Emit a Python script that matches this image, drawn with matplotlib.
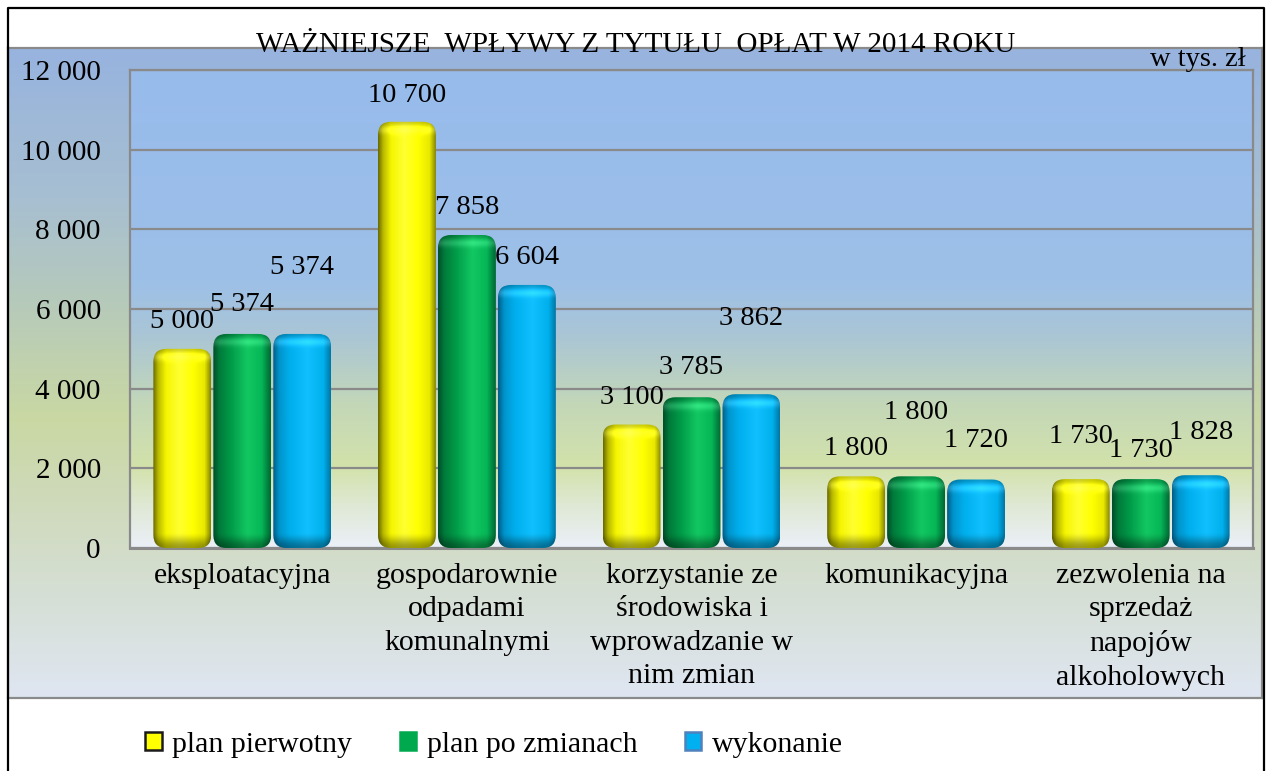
import numpy as np
import matplotlib
matplotlib.use("Agg")
import matplotlib.pyplot as plt
from matplotlib.patches import FancyBboxPatch, Patch
from matplotlib.colors import LinearSegmentedColormap
from matplotlib.ticker import FuncFormatter, MultipleLocator
from matplotlib.lines import Line2D

# ---------------- data ----------------
categories = ["eksploatacyjna", "gospodarownie\nodpadami\nkomunalnymi",
              "korzystanie ze\nśrodowiska i\nwprowadzanie w\nnim zmian",
              "komunikacyjna", "zezwolenia na\nsprzedaż\nnapojów\nalkoholowych"]
series_names = ["plan pierwotny", "plan po zmianach", "wykonanie"]
plan_pierwotny = [5000, 10700, 3100, 1800, 1730]
plan_po_zmianach = [5374, 7858, 3785, 1800, 1730]
wykonanie = [5374, 6604, 3862, 1720, 1828]
label_texts = [["5 000", "10 700", "3 100", "1 800", "1 730"],
               ["5 374", "7 858", "3 785", "1 800", "1 730"],
               ["5 374", "6 604", "3 862", "1 720", "1 828"]]
# label vertical offsets above bar tops (data units), as placed in the original
label_dy = [[680, 670, 690, 710, 1060],
            [730, 680, 740, 1590, 730],
            [1660, 700, 1890, 970, 1080]]
title = "WAŻNIEJSZE  WPŁYWY Z TYTUŁU  OPŁAT W 2014 ROKU"
unit = "w tys. zł"

SERIF = ['Liberation Serif', 'DejaVu Serif']
plt.rcParams['font.family'] = SERIF

W, H = 1266, 771
fig = plt.figure(figsize=(W / 100, H / 100), dpi=100)
fig.patch.set_facecolor('white')

def fx(px):
    return px / W

def fy(py):
    return 1 - py / H

# ---------- chart-area background ----------
ca = fig.add_axes([fx(8), fy(698), fx(1262) - fx(8), fy(48) - fy(698)], zorder=0)
ca_stops = [(0.0, '#dfe6f2'), (0.15, '#d6dfd6'), (0.3, '#cfdabb'), (0.43, '#c9d8a3'),
            (0.62, '#b5c9bc'), (0.77, '#a7bfd1'), (1.0, '#97b3df')]
cmap_ca = LinearSegmentedColormap.from_list('ca', ca_stops)
ca.imshow(np.linspace(0, 1, 256).reshape(-1, 1), cmap=cmap_ca, origin='lower',
          aspect='auto', extent=[0, 1, 0, 1])
ca.set_xlim(0, 1); ca.set_ylim(0, 1)
ca.set_xticks([]); ca.set_yticks([])
for s in ca.spines.values():
    s.set_color('#8a8a8a'); s.set_linewidth(1.6)

# ---------- plot area ----------
ax = fig.add_axes([fx(130), fy(548), fx(1253) - fx(130), fy(70) - fy(548)], zorder=1)
pa_stops = [(0.0, '#ebf0f8'), (0.08, '#e0e9d8'), (0.17, '#d3e2aa'), (0.3, '#c3d7b8'),
            (0.45, '#a9c5d6'), (0.56, '#9dc0e8'), (1.0, '#97bbec')]
cmap_pa = LinearSegmentedColormap.from_list('pa', pa_stops)
ax.imshow(np.linspace(0, 1, 256).reshape(-1, 1), cmap=cmap_pa, origin='lower',
          aspect='auto', extent=[0, 1, 0, 1], transform=ax.transAxes, zorder=0)

n = len(categories)
x = np.arange(n)
pitch = 0.267
bw = 0.258
ymax = 12000
ax.set_xlim(-0.5, n - 0.5)
ax.set_ylim(0, ymax)

ax_wpx = 1253 - 130
ax_hpx = 548 - 70
px_x = n / ax_wpx        # data x per pixel
px_y = ymax / ax_hpx     # data y per pixel

# horizontal shading profiles (position, colour)
profiles = [
    [(0.0, '#6e6e00'), (0.08, '#b8b800'), (0.22, '#f5f500'), (0.45, '#ffff30'),
     (0.7, '#ffff00'), (0.9, '#e8e800'), (1.0, '#8a8a00')],
    [(0.0, '#00502a'), (0.1, '#007a3a'), (0.3, '#009a48'), (0.6, '#12c862'),
     (0.85, '#05b656'), (1.0, '#006a34')],
    [(0.0, '#00608a'), (0.1, '#0094cc'), (0.3, '#00b0ee'), (0.6, '#10c0ff'),
     (0.88, '#00b0ec'), (1.0, '#0078a8')],
]
legend_face = ['#ffff00', '#00a84e', '#00b0f0']
legend_edge = ['#1a1a1a', '#00a84e', '#4f81bd']

def smooth(t):
    t = np.clip(t, 0, 1)
    return t * t * (3 - 2 * t)

all_series = [plan_pierwotny, plan_po_zmianach, wykonanie]
radius_px = 13
for si, vals in enumerate(all_series):
    bars = ax.bar(x + (si - 1) * pitch, vals, width=bw, alpha=0.0, zorder=2)
    cm = LinearSegmentedColormap.from_list('b%d' % si, profiles[si])
    for bi, rect in enumerate(bars):
        x0, w0, h0 = rect.get_x(), rect.get_width(), rect.get_height()
        patch = FancyBboxPatch((x0, 0), w0, h0,
                               boxstyle="round,pad=0,rounding_size=%f" % (radius_px * px_x),
                               mutation_aspect=px_y / px_x,
                               facecolor='none', edgecolor='none', zorder=3)
        ax.add_patch(patch)
        wpx = max(int(w0 / px_x), 4)
        hpx = max(int(h0 / px_y), 4)
        hor = cm(np.linspace(0, 1, wpx))[:, :3]
        rows = np.arange(hpx) + 0.5
        db = rows
        dt = hpx - rows
        vf = (0.62 + 0.38 * smooth(db / 16.0)) * (0.8 + 0.2 * smooth(dt / 8.0))
        img = hor[None, :, :] * vf[:, None, None]
        hl = np.exp(-((dt - 9) / 4.0) ** 2) * 0.12
        img = np.clip(img + hl[:, None, None], 0, 1)
        im = ax.imshow(img, origin='lower', extent=[x0, x0 + w0, 0, h0],
                       aspect='auto', interpolation='bilinear', zorder=3)
        im.set_clip_path(patch)
        ax.text(x0 + w0 / 2, h0 + label_dy[si][bi], label_texts[si][bi],
                ha='center', va='center', fontsize=20.5, family=SERIF,
                color='black', zorder=5)

ax.set_xlim(-0.5, n - 0.5)
ax.set_ylim(0, ymax)
ax.set_aspect('auto')

ax.yaxis.set_major_locator(MultipleLocator(2000))
ax.yaxis.set_major_formatter(FuncFormatter(lambda v, p: f"{int(v):,}".replace(",", " ")))
ax.grid(axis='y', color='#8a8a8a', linewidth=1.6, zorder=1)
ax.set_axisbelow(True)
ax.set_xticks(x)
ax.set_xticklabels(categories, fontsize=21.5, linespacing=1.38, family=SERIF)
for t in ax.get_yticklabels():
    t.set_family(SERIF)
ax.tick_params(axis='x', length=0, pad=10.5)
ax.tick_params(axis='y', length=0, pad=21, labelsize=21)
for s in ax.spines.values():
    s.set_color('#8a8a8a'); s.set_linewidth(1.6)
ax.spines['bottom'].set_linewidth(2.2)

# ---------- texts ----------
fig.text(fx(636), fy(45), title, ha='center', va='center', fontsize=21, family=SERIF, zorder=10)
fig.text(fx(1246), fy(60), unit, ha='right', va='center', fontsize=20.5, family=SERIF, zorder=10)

# ---------- legend ----------
handles = [Patch(facecolor=legend_face[i], edgecolor=legend_edge[i], linewidth=1.8)
           for i in range(3)]
fig.legend(handles, series_names, loc='center', bbox_to_anchor=(fx(494), fy(745)),
           ncol=3, frameon=False, prop={'family': SERIF, 'size': 21.5},
           handlelength=0.55, handleheight=0.55, handletextpad=0.35, columnspacing=1.6)

# ---------- outer frame ----------
frame = fig.add_axes([0, 0, 1, 1], zorder=20)
frame.set_xlim(0, W); frame.set_ylim(H, 0)
frame.axis('off')
frame.patch.set_alpha(0)
frame.add_line(Line2D([8, 8, 1264, 1264], [H + 5, 8, 8, H + 5], color='black', lw=1.6))

fig.savefig('out.png', dpi=100)
